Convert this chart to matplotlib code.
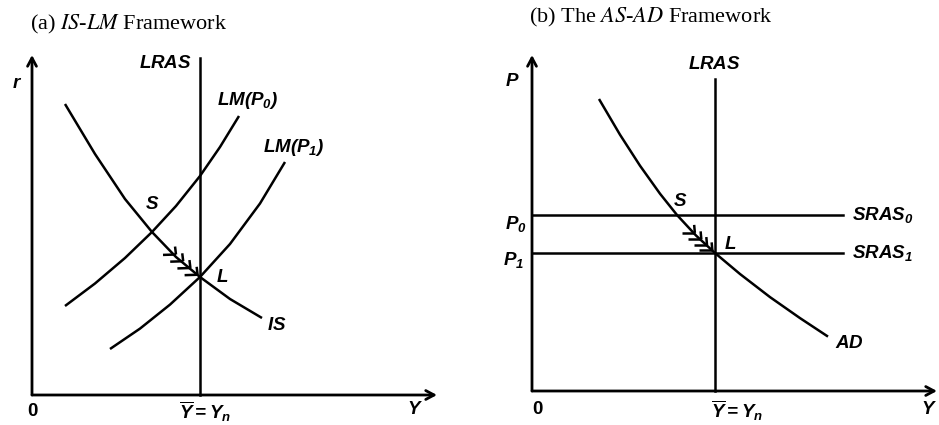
import matplotlib
matplotlib.use("Agg")
import matplotlib.pyplot as plt
import numpy as np

plt.rcParams['mathtext.fontset'] = 'custom'
plt.rcParams['mathtext.it'] = 'Liberation Sans:italic:bold'
plt.rcParams['mathtext.rm'] = 'Liberation Sans:italic:bold'
plt.rcParams['mathtext.bf'] = 'Liberation Sans:bold'

# ---------------- Panel (a): IS-LM ----------------
is_x = [33, 63, 93, 120, 144, 168, 198, 230]
is_y = [291, 241, 196, 163, 138, 118, 96, 77]
lm0_x = [33, 63, 93, 120, 144, 168, 188, 207]
lm0_y = [89, 111.5, 137, 163, 189, 219, 248, 279]
lm1_x = [78, 108, 138, 168, 198, 228, 253]
lm1_y = [46, 66.4, 90.4, 118, 151, 191.5, 233]
lras_a_x = 168
lras_a_top = 337
S_a = (120, 163)
L_a = (168, 118)
chev_a = [0.5, 0.65, 0.8, 0.95]
axis_a = (405, 340)

# ---------------- Panel (b): AS-AD ----------------
ad_x = [67, 88, 108, 128, 145, 164, 183, 208, 238, 268, 296]
ad_y = [292, 256.3, 225.3, 197.3, 176, 155.5, 138, 117, 93.9, 72.9, 54.4]
sras0_y = 176
sras1_y = 138
sras_end = 311
lras_b_x = 183
lras_b_top = 312
S_b = (145, 176)
L_b = (183, 138)
chev_b = [0.47, 0.64, 0.79, 0.93]
axis_b = (405, 336)

W, H = 939, 425
fig = plt.figure(figsize=(W / 100, H / 100), dpi=100)
axA = fig.add_axes([0, 0, 469 / W, 1])
axB = fig.add_axes([469 / W, 0, 470 / W, 1])
axA.set_xlim(-32, 437)
axA.set_ylim(-30, 395)
axB.set_xlim(-63, 407)
axB.set_ylim(-34, 391)
for ax in (axA, axB):
    ax.axis('off')

LW = 1.8
K = 'black'


def draw_axes(ax, xmax, ymax):
    ap = dict(arrowstyle='->,head_length=0.6,head_width=0.32', lw=2.0, color=K,
              shrinkA=0, shrinkB=0)
    ax.annotate('', xy=(xmax, 0), xytext=(0, 0), arrowprops=ap, annotation_clip=False)
    ax.annotate('', xy=(0, ymax), xytext=(0, 0), arrowprops=ap, annotation_clip=False)


def chevrons(ax, S, L, fracs, up=8, down=13, ang_up=40, ang_down=45):
    S = np.array(S, float)
    L = np.array(L, float)
    d = (L - S) / np.linalg.norm(L - S)
    back = -d
    for f in fracs:
        p = S + f * (L - S)
        for length, ang in ((up, -ang_up), (down, ang_down)):
            a = np.deg2rad(ang)
            rot = np.array([[np.cos(a), -np.sin(a)], [np.sin(a), np.cos(a)]])
            q = p + length * (rot @ back)
            ax.plot([p[0], q[0]], [p[1], q[1]], color=K, lw=1.8, solid_capstyle='butt')


fs = 13.5
lab = dict(fontsize=fs, color=K, math_fontfamily='custom')
curve = dict(color=K, lw=LW, solid_joinstyle='round', solid_capstyle='butt')

# Panel (a)
draw_axes(axA, *axis_a)
axA.plot([lras_a_x, lras_a_x], [0, lras_a_top], color=K, lw=LW)
axA.plot(is_x, is_y, **curve)
axA.plot(lm0_x, lm0_y, **curve)
axA.plot(lm1_x, lm1_y, **curve)
chevrons(axA, S_a, L_a, chev_a)

axA.text(-2, 371, r"(a) $\mathit{IS}$-$\mathit{LM}$ Framework", fontsize=16,
         family='Liberation Serif', math_fontfamily='stix', ha='left', va='center')
axA.text(-15, 313, r"$r$", ha='center', va='center', **lab)
axA.text(160, 333, r"$LRAS$", ha='right', va='center', **lab)
axA.text(185, 295, r"$LM(P_0)$", ha='left', va='center', **lab)
axA.text(231, 247, r"$LM(P_1)$", ha='left', va='center', **lab)
axA.text(120, 192, r"$S$", ha='center', va='center', **lab)
axA.text(190, 118, r"$L$", ha='center', va='center', **lab)
axA.text(245, 71, r"$IS$", ha='center', va='center', **lab)
axA.text(0, -17, "0", ha='center', va='center', fontsize=fs, family='Liberation Sans',
         weight='bold')
axA.text(173, -4, r"$\overline{Y} = Y_n$", ha='center', va='top', **lab)
axA.text(383, -14, r"$Y$", ha='center', va='center', **lab)

# Panel (b)
draw_axes(axB, *axis_b)
axB.plot([lras_b_x, lras_b_x], [0, lras_b_top], color=K, lw=LW)
axB.plot([0, sras_end], [sras0_y, sras0_y], color=K, lw=LW)
axB.plot([0, sras_end], [sras1_y, sras1_y], color=K, lw=LW)
axB.plot(ad_x, ad_y, **curve)
chevrons(axB, S_b, L_b, chev_b)

axB.text(-3, 374, r"(b) The $\mathit{AS}$-$\mathit{AD}$ Framework", fontsize=16,
         family='Liberation Serif', math_fontfamily='stix', ha='left', va='center')
axB.text(-20, 311, r"$P$", ha='center', va='center', **lab)
axB.text(182, 328, r"$LRAS$", ha='center', va='center', **lab)
axB.text(320, sras0_y, r"$SRAS_0$", ha='left', va='center', **lab)
axB.text(320, sras1_y, r"$SRAS_1$", ha='left', va='center', **lab)
axB.text(-16, 167, r"$P_0$", ha='center', va='center', **lab)
axB.text(-18, 131, r"$P_1$", ha='center', va='center', **lab)
axB.text(148, 191, r"$S$", ha='center', va='center', **lab)
axB.text(198, 148, r"$L$", ha='center', va='center', **lab)
axB.text(317, 49, r"$AD$", ha='center', va='center', **lab)
axB.text(5, -19, "0", ha='center', va='center', fontsize=fs, family='Liberation Sans',
         weight='bold')
axB.text(179, -7, r"$\overline{Y} = Y_n$", ha='left', va='top', **lab)
axB.text(397, -18, r"$Y$", ha='center', va='center', **lab)

fig.savefig("out.png", dpi=100, facecolor='white')
